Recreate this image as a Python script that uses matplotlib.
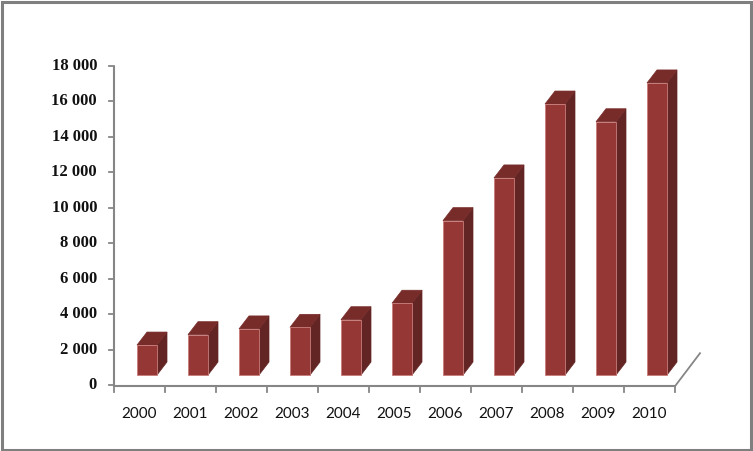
import matplotlib.pyplot as plt
from matplotlib.patches import Rectangle, Polygon

# Data
years = ['2000', '2001', '2002', '2003', '2004', '2005', '2006', '2007', '2008', '2009', '2010']
values = [1690, 2275, 2600, 2690, 3120, 4050, 8710, 11120, 15290, 14290, 16480]
y_ticks = [0, 2000, 4000, 6000, 8000, 10000, 12000, 14000, 16000, 18000]
y_labels = ['0', '2 000', '4 000', '6 000', '8 000', '10 000', '12 000', '14 000', '16 000', '18 000']

W, H = 753, 451
fig = plt.figure(figsize=(W / 100, H / 100), dpi=100)

# plot area in pixels (front plane)
left_px, right_px, top_px, bottom_px = 114, 675, 66, 385
ax = fig.add_axes([left_px / W, 1 - bottom_px / H, (right_px - left_px) / W, (bottom_px - top_px) / H])
ax.set_xlim(-0.5, len(years) - 0.5)
ax.set_ylim(0, 18000)
ax.axis('off')

px_x = len(years) / (right_px - left_px)   # category units per pixel
px_y = 18000 / (bottom_px - top_px)        # value units per pixel

grey = '#868686'
front_c = '#953735'
side_c = '#632523'
top_c = '#772c2a'
edge_c = '#c87d7b'

# 3D offsets (pixels)
bar_w = 20 * px_x
dx, dy = 10 * px_x, 13 * px_y
floor_dx, floor_dy = 25 * px_x, 33 * px_y
base = 10 * px_y

for i, v in enumerate(values):
    x0 = i - 2.5 * px_x
    x1 = x0 + bar_w
    y0 = base
    y1 = base + v
    ax.add_patch(Polygon([(x1, y0), (x1, y1), (x1 + dx, y1 + dy), (x1 + dx, y0 + dy)],
                         closed=True, facecolor=side_c, edgecolor=side_c, lw=0.5, clip_on=False))
    ax.add_patch(Polygon([(x0, y1), (x1, y1), (x1 + dx, y1 + dy), (x0 + dx, y1 + dy)],
                         closed=True, facecolor=top_c, edgecolor=top_c, lw=0.5, clip_on=False))
    ax.add_patch(Rectangle((x0, y0), bar_w, v, facecolor=front_c, edgecolor=edge_c, lw=0.6, clip_on=False))

# value axis
ax.plot([-0.5, -0.5], [0, 18000], color=grey, lw=1.5, clip_on=False, solid_capstyle='butt')
for t, lab in zip(y_ticks, y_labels):
    ax.plot([-0.5 - 5 * px_x, -0.5], [t, t], color=grey, lw=1.3, clip_on=False)
    ax.text(-0.5 - 17 * px_x, t, lab, ha='right', va='center', fontsize=12,
            fontweight='bold', family='Liberation Serif', color='#111111')

# category axis (front floor edge) and floor side
y_floor = -1.2 * px_y
ax.plot([-0.5, len(years) - 0.5], [y_floor, y_floor], color=grey, lw=1.5, clip_on=False)
for k in range(len(years) + 1):
    xk = k - 0.5
    ax.plot([xk, xk], [y_floor, y_floor - 6 * px_y], color=grey, lw=1.3, clip_on=False)
ax.plot([len(years) - 0.5, len(years) - 0.5 + floor_dx], [y_floor, y_floor + floor_dy],
        color=grey, lw=1.3, clip_on=False)
for i, yr in enumerate(years):
    ax.text(i, -29 * px_y, yr, ha='center', va='center', fontsize=11,
            family='Lato', color='#111111')

# chart border
fig.patches.append(Rectangle((1.5 / W, 1.5 / H), (W - 3.5) / W, (H - 3.5) / H, transform=fig.transFigure,
                             fill=False, edgecolor='#7f7f7f', lw=2.2))

fig.savefig('out.png', dpi=100, facecolor='white')
